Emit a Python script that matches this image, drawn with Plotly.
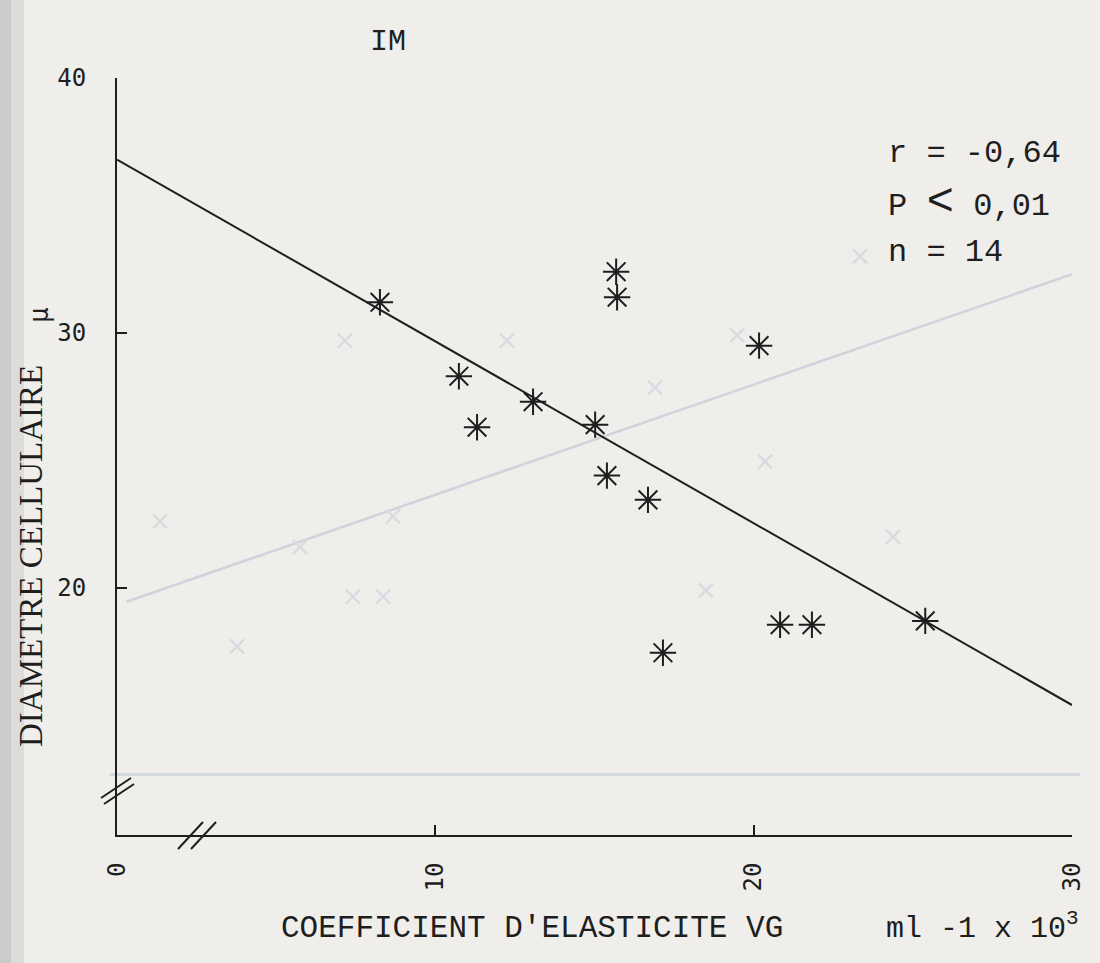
import plotly.graph_objects as go

# ---------------- data ----------------
elasticite = [8.26, 10.74, 11.31, 13.07, 15.02, 15.68, 15.71, 15.39, 16.68, 17.15, 20.17, 20.83, 21.83, 25.39]
diametre = [31.2, 28.3, 26.3, 27.3, 26.4, 32.4, 31.4, 24.4, 23.45, 17.45, 29.5, 18.55, 18.55, 18.7]

reg_x = [0, 30]
reg_y = [36.8, 15.4]

x_ticks = [0, 10, 20, 30]
x_tick_labels = ["0", "10", "20", "30"]
y_ticks = [20, 30, 40]
y_tick_labels = ["20", "30", "40"]

stats_lines = ["r = -0,64", "P <span style='font-size:46px'>&lt;</span> 0,01", "n = 14"]

# faint show-through from the reverse page
ghost_x = [1.35, 7.16, 8.67, 5.75, 7.41, 8.36, 3.77, 12.25, 16.9, 19.48, 20.36, 18.5, 24.38, 23.34, 26.64]
ghost_y = [22.6, 29.7, 22.8, 21.6, 19.65, 19.65, 17.7, 29.7, 27.85, 29.9, 24.95, 19.9, 22.0, 33.0, 40.1]
ghost_reg_x = [0.3, 30]
ghost_reg_y = [19.45, 32.3]
ghost_axis_y = 12.67

# ---------------- layout helpers ----------------
W, H = 1100, 963
L, R, T, B = 117, 28, 78, 128
PW, PH = W - L - R, H - T - B


def xp(px):
    return (px - L) / PW


def yp(py):
    return (H - B - py) / PH


INK = "#1e1e1e"
PAPER = "#efeeeb"
MONO = "Liberation Mono"
PLOT = "DejaVu Sans Mono"

fig = go.Figure()

# ghost elements
fig.add_trace(go.Scatter(x=ghost_reg_x, y=ghost_reg_y, mode="lines",
                         line=dict(color="#cfd3db", width=2.5), hoverinfo="skip", showlegend=False))
fig.add_trace(go.Scatter(x=ghost_x, y=ghost_y, mode="markers", cliponaxis=False,
                         marker=dict(symbol="x-thin-open", size=14, color="#d8dbe0",
                                     line=dict(color="#d8dbe0", width=2.5)),
                         hoverinfo="skip", showlegend=False))

# regression line
fig.add_trace(go.Scatter(x=reg_x, y=reg_y, mode="lines",
                         line=dict(color=INK, width=2), showlegend=False))
# data points
fig.add_trace(go.Scatter(x=elasticite, y=diametre, mode="markers", cliponaxis=False,
                         marker=dict(symbol="asterisk-open", size=22, color=INK,
                                     line=dict(color=INK, width=2)),
                         showlegend=False))

shapes = [
    # scanner shadow on the left edge
    dict(type="rect", xref="paper", yref="paper", x0=xp(0), x1=xp(11), y0=yp(H), y1=yp(0),
         fillcolor="#cbcbcb", line=dict(width=0), layer="below"),
    dict(type="rect", xref="paper", yref="paper", x0=xp(11), x1=xp(24), y0=yp(H), y1=yp(0),
         fillcolor="#dcdcdb", line=dict(width=0), layer="below"),
    # ghost axis from reverse page
    dict(type="line", xref="paper", yref="y", x0=xp(110), x1=xp(1080), y0=ghost_axis_y, y1=ghost_axis_y,
         line=dict(color="#d3d7de", width=3), layer="below"),
    # axis break marks on y axis
    dict(type="line", xref="paper", yref="paper", x0=xp(101), y0=yp(798), x1=xp(131), y1=yp(778),
         line=dict(color=INK, width=2)),
    dict(type="line", xref="paper", yref="paper", x0=xp(104), y0=yp(804), x1=xp(134), y1=yp(784),
         line=dict(color=INK, width=2)),
    # axis break marks on x axis
    dict(type="line", xref="paper", yref="paper", x0=xp(178), y0=yp(849), x1=xp(203), y1=yp(822),
         line=dict(color=INK, width=2)),
    dict(type="line", xref="paper", yref="paper", x0=xp(191), y0=yp(849), x1=xp(216), y1=yp(822),
         line=dict(color=INK, width=2)),
]

annotations = [
    dict(text="IM", x=xp(388), y=yp(42), xref="paper", yref="paper", showarrow=False,
         xanchor="center", yanchor="middle", font=dict(family=MONO, size=30, color=INK)),
    dict(text="COEFFICIENT D'ELASTICITE VG", x=xp(279), y=yp(928), xref="paper", yref="paper",
         showarrow=False, xanchor="left", yanchor="middle", font=dict(family=MONO, size=31, color=INK)),
    dict(text="ml -1 x 10<sup>3</sup>", x=xp(884), y=yp(926), xref="paper", yref="paper",
         showarrow=False, xanchor="left", yanchor="middle", font=dict(family=MONO, size=30, color=INK)),
    dict(text="DIAMETRE CELLULAIRE", x=xp(31), y=yp(556), xref="paper", yref="paper", textangle=-90,
         showarrow=False, xanchor="center", yanchor="middle",
         font=dict(family="Liberation Serif", size=33, color=INK)),
    dict(text="μ", x=xp(39), y=yp(315), xref="paper", yref="paper", textangle=-90,
         showarrow=False, xanchor="center", yanchor="middle", font=dict(family=PLOT, size=26, color=INK)),
]
for s, py in zip(stats_lines, [153, 203, 252]):
    annotations.append(dict(text=s, x=xp(886), y=yp(py), xref="paper", yref="paper", showarrow=False,
                            xanchor="left", yanchor="middle", font=dict(family=MONO, size=32, color=INK)))

fig.update_layout(
    width=W, height=H,
    margin=dict(l=L, r=R, t=T, b=B, autoexpand=False),
    paper_bgcolor=PAPER, plot_bgcolor=PAPER,
    shapes=shapes, annotations=annotations,
    xaxis=dict(range=[0, 30], showgrid=False, zeroline=False, showline=True, linecolor=INK, linewidth=2,
               ticks="inside", ticklen=10, tickwidth=2, tickcolor=INK,
               tickvals=x_ticks, ticktext=x_tick_labels, tickangle=-90, ticklabelstandoff=16,
               tickfont=dict(family=PLOT, size=24, color=INK)),
    yaxis=dict(range=[10.3, 40], showgrid=False, zeroline=False, showline=True, linecolor=INK, linewidth=2,
               ticks="inside", ticklen=10, tickwidth=2, tickcolor=INK,
               tickvals=y_ticks, ticktext=y_tick_labels, ticklabelstandoff=24,
               tickfont=dict(family=PLOT, size=24, color=INK)),
)

fig.write_html("out.html", config={"displayModeBar": False},
               post_script="document.body.style.margin='0';")
